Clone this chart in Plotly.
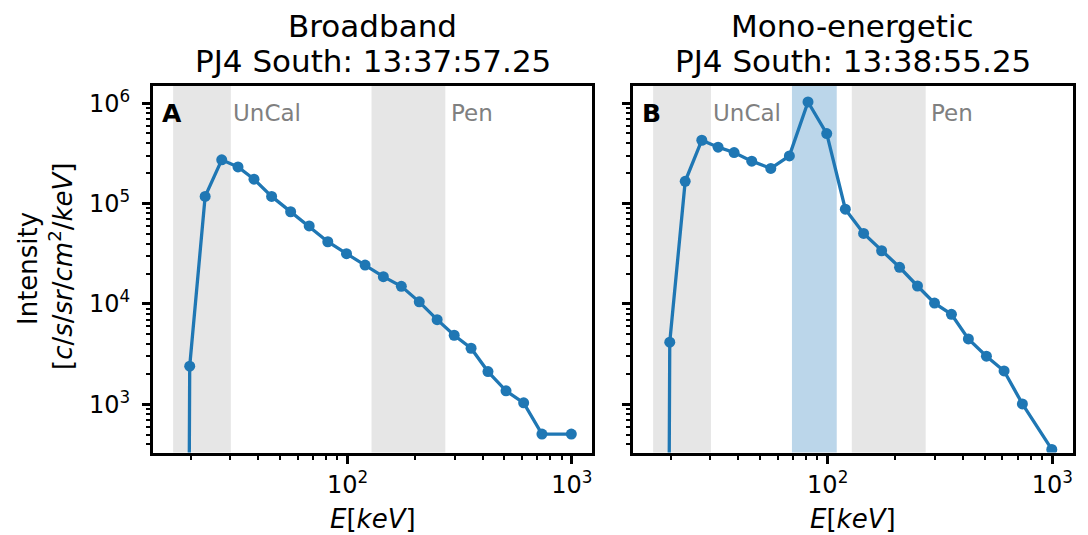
import math
import plotly.graph_objects as go

# ---------------- data ----------------
energy_kev = [16.9, 19.8, 23.2, 27.5, 32.5, 38.3, 45.9, 55.8, 67.5, 81.7, 99.0, 119.8,
              144.5, 173.8, 208.9, 251.0, 299.0, 355.6, 423.0, 509.0, 610.0, 736.0, 995.0]
broadband = [0, 2400, 1.18e5, 2.73e5, 2.32e5, 1.75e5, 1.18e5, 8.3e4, 6.0e4, 4.17e4, 3.17e4,
             2.44e4, 1.87e4, 1.5e4, 1.05e4, 6980, 4880, 3620, 2120, 1362, 1035, 505, 505]
mono = [0, 4160, 1.67e5, 4.28e5, 3.65e5, 3.23e5, 2.65e5, 2.24e5, 2.99e5, 1.03e6, 4.99e5,
        8.8e4, 5.05e4, 3.39e4, 2.32e4, 1.51e4, 1.02e4, 7890, 4480, 3020, 2150, 1010, 355]
uncal_band = [16.7, 30.2]
pen_band = [128.0, 273.0]
mono_band = [69.3, 109.7]
titles = ["Broadband<br>PJ4 South: 13:37:57.25", "Mono-energetic<br>PJ4 South: 13:38:55.25"]
panel_letters = ["A", "B"]
x_tick_vals = [100, 1000]
x_tick_text = ["10<sup>2</sup>", "10<sup>3</sup>"]
y_tick_vals = [1e3, 1e4, 1e5, 1e6]
y_tick_text = ["10<sup>3</sup>", "10<sup>4</sup>", "10<sup>5</sup>", "10<sup>6</sup>"]

# ---------------- style ----------------
W, H = 1088, 535
FONT = "DejaVu Sans"
BLUE = "#1f77b4"
GRAY_BAND = "#e6e6e6"
BLUE_BAND = "#bbd6ea"
LABEL_SIZE = 26
TICK_SIZE = 24
TITLE_SIZE = 31
INSET_SIZE = 23
LETTER_SIZE = 25


def clip_nonpos(vals):
    # emulate matplotlib's log-scale 'clip' of non-positive values
    return [v if v > 0 else 1e-30 for v in vals]


x_minor = [m * 10 ** k for k in (1, 2, 3) for m in range(2, 10)]
y_minor = [m * 10 ** k for k in (2, 3, 4, 5, 6) for m in range(2, 10)]

xdoms = [[153 / W, 592 / W], [633 / W, 1072.5 / W]]
ydom = [1 - 452.5 / H, 1 - 86 / H]
xrange_log = [1.133, 3.09]
yrange_log = [2.52, 6.172]

fig = go.Figure()
series = [broadband, mono]
shapes = []
annotations = []
for i in range(2):
    xa = "x" if i == 0 else "x2"
    ya = "y" if i == 0 else "y2"
    fig.add_trace(go.Scatter(
        x=energy_kev, y=clip_nonpos(series[i]), mode="lines+markers",
        line=dict(color=BLUE, width=3.3), marker=dict(color=BLUE, size=11),
        xaxis=xa, yaxis=ya, showlegend=False, cliponaxis=True))
    bands = [(uncal_band, GRAY_BAND), (pen_band, GRAY_BAND)]
    if i == 1:
        bands.append((mono_band, BLUE_BAND))
    for b, col in bands:
        shapes.append(dict(type="rect", xref=xa, yref=ya + " domain", x0=b[0], x1=b[1],
                           y0=0, y1=1, fillcolor=col, line=dict(width=0), layer="below"))
    # panel letter
    annotations.append(dict(text="<b>%s</b>" % panel_letters[i], xref=xa + " domain",
                            yref=ya + " domain", x=0.016, y=0.925, xanchor="left",
                            yanchor="middle", showarrow=False,
                            font=dict(family=FONT, size=LETTER_SIZE, color="black")))
    annotations.append(dict(text="UnCal", xref=xa, yref=ya + " domain",
                            x=math.log10(uncal_band[1]), y=0.925, xanchor="left",
                            yanchor="middle", showarrow=False,
                            font=dict(family=FONT, size=INSET_SIZE, color="#808080")))
    annotations.append(dict(text="Pen", xref=xa, yref=ya + " domain",
                            x=math.log10(pen_band[1]) + 0.015, y=0.925, xanchor="left",
                            yanchor="middle", showarrow=False,
                            font=dict(family=FONT, size=INSET_SIZE, color="#808080")))
    # title
    cx = (xdoms[i][0] + xdoms[i][1]) / 2
    l1, l2 = titles[i].split("<br>")
    annotations.append(dict(text=l1, xref="paper", yref="paper", x=cx, y=1 - 26 / H,
                            xanchor="center", yanchor="middle", showarrow=False,
                            font=dict(family=FONT, size=TITLE_SIZE, color="black")))
    annotations.append(dict(text=l2, xref="paper", yref="paper", x=cx, y=1 - 61 / H,
                            xanchor="center", yanchor="middle", showarrow=False,
                            font=dict(family=FONT, size=TITLE_SIZE, color="black")))
    # x label
    annotations.append(dict(text="<i>E</i>[<i>keV</i>]", xref="paper", yref="paper",
                            x=cx, y=1 - 519 / H, xanchor="center", yanchor="middle",
                            showarrow=False,
                            font=dict(family=FONT, size=LABEL_SIZE, color="black")))

# y label
annotations.append(dict(text="Intensity", xref="paper", yref="paper", x=28 / W,
                        y=1 - 269 / H, xanchor="center", yanchor="middle", textangle=-90,
                        showarrow=False, font=dict(family=FONT, size=LABEL_SIZE, color="black")))
annotations.append(dict(text="[<i>c</i>/<i>s</i>/<i>sr</i>/<i>cm</i><sup>2</sup>/<i>keV</i>]",
                        xref="paper", yref="paper", x=61 / W, y=1 - 266 / H,
                        xanchor="center", yanchor="middle", textangle=-90,
                        showarrow=False, font=dict(family=FONT, size=LABEL_SIZE, color="black")))

axis_common = dict(type="log", showline=True, linecolor="black", linewidth=3, mirror=True,
                   showgrid=False, zeroline=False, ticks="outside", ticklen=8, tickwidth=2.5,
                   tickcolor="black", tickfont=dict(family=FONT, size=TICK_SIZE, color="black"))

layout = dict(width=W, height=H, margin=dict(l=0, r=0, t=0, b=0),
              paper_bgcolor="white", plot_bgcolor="white", shapes=shapes,
              annotations=annotations, showlegend=False)
for i in range(2):
    xk = "xaxis" if i == 0 else "xaxis2"
    yk = "yaxis" if i == 0 else "yaxis2"
    xa = dict(axis_common, domain=xdoms[i], range=xrange_log, tickmode="array",
              tickvals=x_tick_vals, ticktext=x_tick_text, ticklabelstandoff=1,
              minor=dict(tickmode="array", tickvals=x_minor, ticks="outside", ticklen=4.5,
                         tickwidth=2, tickcolor="black"),
              anchor="y" if i == 0 else "y2")
    ya = dict(axis_common, domain=ydom, range=yrange_log, tickmode="array",
              tickvals=y_tick_vals, ticktext=y_tick_text, showticklabels=(i == 0),
              ticklabelstandoff=7,
              minor=dict(tickmode="array", tickvals=y_minor, ticks="outside", ticklen=4.5,
                         tickwidth=2, tickcolor="black"),
              anchor="x" if i == 0 else "x2")
    layout[xk] = xa
    layout[yk] = ya

fig.update_layout(**layout)
fig.write_html("out.html")
